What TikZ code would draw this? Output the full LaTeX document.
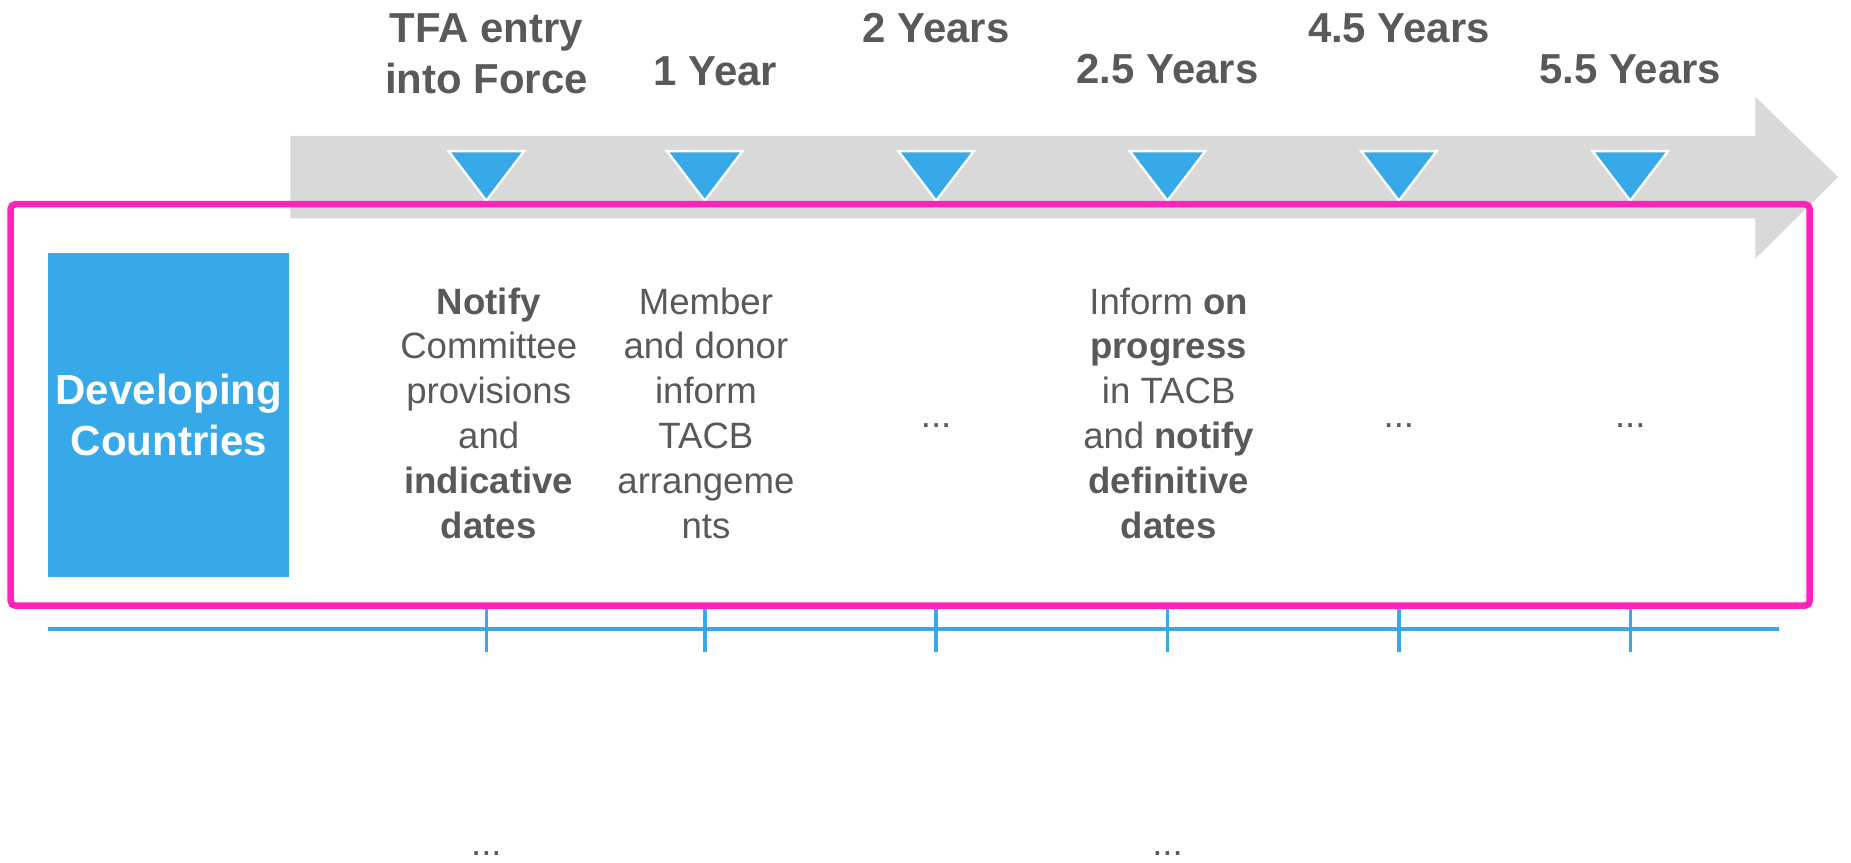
\documentclass[tikz,border=0pt]{standalone}
\usepackage{fontspec}
\setmainfont{Liberation Sans}

\definecolor{tlgray}{HTML}{D9D9D9}
\definecolor{tlblue}{HTML}{37A8E8}
\definecolor{tlpink}{HTML}{FF22BB}
\definecolor{txtgray}{HTML}{595959}

\tikzset{
	yearlabel/.style={font=\fontsize{17.75}{21.5}\selectfont\bfseries,text=txtgray,align=center,inner sep=0pt,anchor=base},
	tasktext/.style={font=\fontsize{15.5}{19}\selectfont,text=txtgray,align=center,inner sep=0pt},
	marker/.style={fill=tlblue,draw=white,line width=1pt},
	tick/.style={draw=tlblue,line width=1.5pt},
}

\begin{document}
\begin{tikzpicture}[x=0.5pt,y=0.5pt]
	\useasboundingbox (0,0) rectangle (1568,-730.3);

	\coordinate (A) at (246,-115);
	\coordinate (B) at (1487,-115);
	\coordinate (C) at (1487,-82);
	\coordinate (D) at (1557,-150);
	\coordinate (E) at (1487,-219);
	\coordinate (F) at (1487,-185);
	\coordinate (G) at (246,-185);

	\coordinate (M1) at (412,-150);
	\coordinate (M2) at (597,-150);
	\coordinate (M3) at (793,-150);
	\coordinate (M4) at (989,-150);
	\coordinate (M5) at (1185,-150);
	\coordinate (M6) at (1381,-150);

	\coordinate (T1) at (412,-533);
	\coordinate (T2) at (597,-533);
	\coordinate (T3) at (793,-533);
	\coordinate (T4) at (989,-533);
	\coordinate (T5) at (1185,-533);
	\coordinate (T6) at (1381,-533);

	\coordinate (LS) at (41,-533);
	\coordinate (LE) at (1507,-533);



	\fill[tlgray](A)--(B)--(C)--(D)--(E)--(F)--(G)--cycle;

	\filldraw[marker](M1) ++(-32,22) -- ++(64,0) -- ++(-32,-42) -- cycle;
	\filldraw[marker](M2) ++(-32,22) -- ++(64,0) -- ++(-32,-42) -- cycle;
	\filldraw[marker](M3) ++(-32,22) -- ++(64,0) -- ++(-32,-42) -- cycle;
	\filldraw[marker](M4) ++(-32,22) -- ++(64,0) -- ++(-32,-42) -- cycle;
	\filldraw[marker](M5) ++(-32,22) -- ++(64,0) -- ++(-32,-42) -- cycle;
	\filldraw[marker](M6) ++(-32,22) -- ++(64,0) -- ++(-32,-42) -- cycle;

	\draw[tick](LS)--(LE);
	\draw[tick](T1) ++(0,17) -- ++(0,-36);
	\draw[tick](T2) ++(0,17) -- ++(0,-36);
	\draw[tick](T3) ++(0,17) -- ++(0,-36);
	\draw[tick](T4) ++(0,17) -- ++(0,-36);
	\draw[tick](T5) ++(0,17) -- ++(0,-36);
	\draw[tick](T6) ++(0,17) -- ++(0,-36);

	\draw[tlpink,line width=2.75pt,rounded corners=2pt](9,-173) rectangle (1533,-513);



	\node[yearlabel] (tfa) at (412,-79) {TFA entry\\into Force};
	\node[yearlabel] (y1) at (606,-72) {1 Year};
	\node[yearlabel] (y2) at (793,-36) {2 Years};
	\node[yearlabel] (y25) at (989,-71) {2.5 Years};
	\node[yearlabel] (y45) at (1185,-36) {4.5 Years};
	\node[yearlabel] (y55) at (1381,-71) {5.5 Years};

	\node[fill=tlblue,minimum width=102pt,minimum height=137.5pt,inner sep=0pt,text=white,
		font=\fontsize{17.8}{21.5}\selectfont\bfseries,align=center] (dev) at (143,-351.5) {Developing\\Countries};

	\node[tasktext] (notify) at (414,-350) {\textbf{Notify}\\Committee\\provisions\\and\\\textbf{indicative}\\\textbf{dates}};
	\node[tasktext] (donor) at (598,-350) {Member\\and donor\\inform\\TACB\\arrangeme\\nts};
	\node[tasktext,anchor=base] (dots3) at (793,-362) {...};
	\node[tasktext] (progress) at (990,-350) {Inform \textbf{on}\\\textbf{progress}\\in TACB\\and \textbf{notify}\\\textbf{definitive}\\\textbf{dates}};
	\node[tasktext,anchor=base] (dots5) at (1185,-362) {...};
	\node[tasktext,anchor=base] (dots6) at (1381,-362) {...};

	\node[tasktext,anchor=base] (low1) at (412,-725) {...};
	\node[tasktext,anchor=base] (low4) at (989,-725) {...};

\end{tikzpicture}
\end{document}
